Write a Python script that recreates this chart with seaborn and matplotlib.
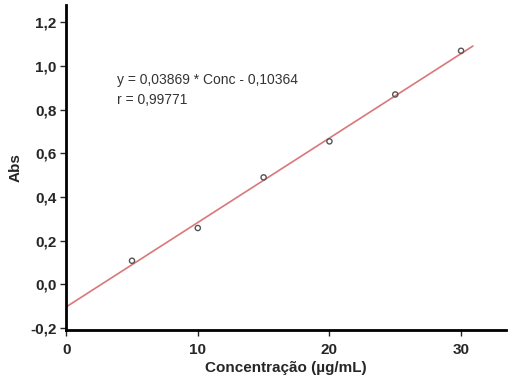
import pandas as pd
import matplotlib
matplotlib.use("Agg")
import matplotlib.pyplot as plt
import matplotlib.ticker as mticker
import seaborn as sns

# calibration points
conc = [5, 10, 15, 20, 25, 30]
absorb = [0.108, 0.258, 0.490, 0.655, 0.870, 1.070]

# fitted line end points (y = 0,03869 * Conc - 0,10364)
fit_conc = [0, 30.9]
fit_abs = [-0.1036, 1.0919]

df = pd.DataFrame({"Conc": conc, "Abs": absorb})
fit = pd.DataFrame({"Conc": fit_conc, "Abs": fit_abs})

sns.set_style("ticks")
plt.rcParams["font.family"] = ["Liberation Sans", "DejaVu Sans"]

fig = plt.figure(figsize=(5.13, 3.83), dpi=100)
ax = fig.add_axes([0.129, 0.138, 0.857, 0.849])

sns.lineplot(data=fit, x="Conc", y="Abs", color="#d9777a", linewidth=1.2, ax=ax)
sns.scatterplot(data=df, x="Conc", y="Abs", marker="o", s=14,
                facecolor="none", edgecolor="#555555", linewidth=1.0, ax=ax, zorder=3)

ax.set_xlim(0, 33.4)
ax.set_ylim(-0.21, 1.28)
ax.set_xticks([0, 10, 20, 30])
ax.set_yticks([-0.2, 0.0, 0.2, 0.4, 0.6, 0.8, 1.0, 1.2])
ax.yaxis.set_major_formatter(mticker.FuncFormatter(lambda v, p: f"{v:.1f}".replace(".", ",")))

for s in ["top", "right"]:
    ax.spines[s].set_visible(False)
for s in ["left", "bottom"]:
    ax.spines[s].set_linewidth(2)
    ax.spines[s].set_color("black")
ax.tick_params(direction="out", length=4, width=1, labelsize=11, pad=3)
ax.tick_params(axis="x", pad=5)
for lab in ax.get_xticklabels() + ax.get_yticklabels():
    lab.set_fontweight("bold")

ax.set_xlabel("Concentração (µg/mL)", fontsize=11, fontweight="bold", labelpad=3)
ax.set_ylabel("Abs", fontsize=11, fontweight="bold", labelpad=5)

ax.text(3.86, 0.936, "y = 0,03869 * Conc - 0,10364", fontsize=10,
        color="#333333", va="center")
ax.text(3.86, 0.845, "r = 0,99771", fontsize=10, color="#333333", va="center")

fig.savefig("out.png", dpi=100)
